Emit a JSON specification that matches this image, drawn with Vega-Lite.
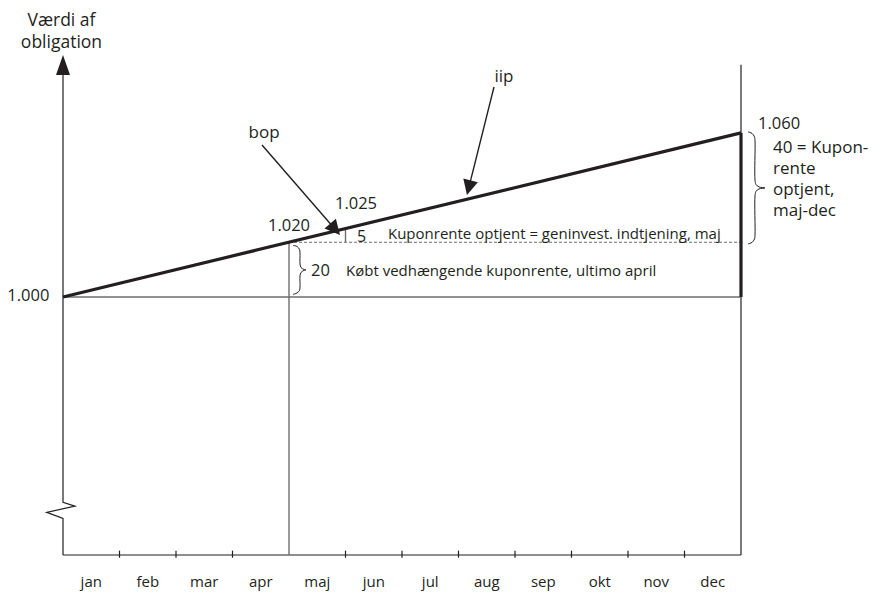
{
  "$schema": "https://vega.github.io/schema/vega-lite/v6.json",
  "width": 678,
  "height": 500,
  "autosize": {"type": "none"},
  "padding": {"left": 63, "top": 55, "right": 134, "bottom": 38},
  "config": {"view": {"stroke": null}, "font": "Open Sans"},
  "datasets": {
    "thinBlack": [
      {"x": 0, "v": 905.6, "x2": 12, "v2": 905.6},
      {"x": 12, "v": 905.6, "x2": 12, "v2": 1084.9},
      {"x": 1, "v": 904.6, "x2": 1, "v2": 907.2},
      {"x": 2, "v": 904.6, "x2": 2, "v2": 907.2},
      {"x": 3, "v": 904.6, "x2": 3, "v2": 907.2},
      {"x": 5, "v": 904.6, "x2": 5, "v2": 907.2},
      {"x": 6, "v": 904.6, "x2": 6, "v2": 907.2},
      {"x": 7, "v": 904.6, "x2": 7, "v2": 907.2},
      {"x": 8, "v": 904.6, "x2": 8, "v2": 907.2},
      {"x": 9, "v": 904.6, "x2": 9, "v2": 907.2},
      {"x": 10, "v": 904.6, "x2": 10, "v2": 907.2},
      {"x": 11, "v": 904.6, "x2": 11, "v2": 907.2}
    ],
    "grayRules": [
      {"x": 0, "v": 1000, "x2": 12, "v2": 1000},
      {"x": 4, "v": 905.6, "x2": 4, "v2": 1020},
      {"x": 5, "v": 1020, "x2": 5, "v2": 1025}
    ],
    "dashed": [
      {"x": 4, "v": 1020, "x2": 12, "v2": 1020}
    ],
    "thick": [
      {"x": 0, "v": 1000, "x2": 12, "v2": 1060},
      {"x": 12, "v": 1000, "x2": 12, "v2": 1060}
    ],
    "arrows": [
      {"x": 7.628, "v": 1076.8, "x2": 7.182, "v2": 1039.99},
      {"x": 3.522, "v": 1055.6, "x2": 4.816, "v2": 1024.77}
    ],
    "heads": [
      {"x": 7.182, "v": 1039.99, "ang": 194},
      {"x": 4.816, "v": 1024.77, "ang": 139}
    ],
    "yArrow": [
      {"x": 0, "v": 1084.88}
    ],
    "yAxisLine": [
      {"o": 1, "x": 0, "v": 1081.2},
      {"o": 2, "x": 0, "v": 924.9},
      {"o": 3, "x": 0.212, "v": 923.5},
      {"o": 4, "x": -0.288, "v": 921.2},
      {"o": 5, "x": 0, "v": 919.0},
      {"o": 6, "x": 0, "v": 905.6}
    ],
    "braces": [
      {"b": "r", "o": 1, "x": 12.124, "v": 1060.37},
      {"b": "r", "o": 2, "x": 12.195, "v": 1059.82},
      {"b": "r", "o": 3, "x": 12.239, "v": 1058.54},
      {"b": "r", "o": 4, "x": 12.248, "v": 1057.07},
      {"b": "r", "o": 5, "x": 12.248, "v": 1042.80},
      {"b": "r", "o": 6, "x": 12.265, "v": 1041.16},
      {"b": "r", "o": 7, "x": 12.319, "v": 1040.24},
      {"b": "r", "o": 8, "x": 12.425, "v": 1039.88},
      {"b": "r", "o": 9, "x": 12.319, "v": 1039.51},
      {"b": "r", "o": 10, "x": 12.265, "v": 1038.60},
      {"b": "r", "o": 11, "x": 12.248, "v": 1036.95},
      {"b": "r", "o": 12, "x": 12.248, "v": 1022.68},
      {"b": "r", "o": 13, "x": 12.239, "v": 1021.22},
      {"b": "r", "o": 14, "x": 12.195, "v": 1019.94},
      {"b": "r", "o": 15, "x": 12.124, "v": 1019.39},
      {"b": "l", "o": 1, "x": 4.071, "v": 1018.84},
      {"b": "l", "o": 2, "x": 4.142, "v": 1018.48},
      {"b": "l", "o": 3, "x": 4.186, "v": 1017.38},
      {"b": "l", "o": 4, "x": 4.195, "v": 1016.10},
      {"b": "l", "o": 5, "x": 4.195, "v": 1012.07},
      {"b": "l", "o": 6, "x": 4.212, "v": 1010.79},
      {"b": "l", "o": 7, "x": 4.265, "v": 1010.06},
      {"b": "l", "o": 8, "x": 4.301, "v": 1009.88},
      {"b": "l", "o": 9, "x": 4.265, "v": 1009.70},
      {"b": "l", "o": 10, "x": 4.212, "v": 1008.96},
      {"b": "l", "o": 11, "x": 4.195, "v": 1007.68},
      {"b": "l", "o": 12, "x": 4.195, "v": 1003.66},
      {"b": "l", "o": 13, "x": 4.186, "v": 1002.38},
      {"b": "l", "o": 14, "x": 4.142, "v": 1001.46},
      {"b": "l", "o": 15, "x": 4.071, "v": 1000.91}
    ],
    "months": [
      {"x": 0.5, "v": 895.73, "t": "jan"},
      {"x": 1.5, "v": 895.73, "t": "feb"},
      {"x": 2.5, "v": 895.73, "t": "mar"},
      {"x": 3.5, "v": 895.73, "t": "apr"},
      {"x": 4.5, "v": 895.73, "t": "maj"},
      {"x": 5.5, "v": 895.73, "t": "jun"},
      {"x": 6.5, "v": 895.73, "t": "jul"},
      {"x": 7.5, "v": 895.73, "t": "aug"},
      {"x": 8.5, "v": 895.73, "t": "sep"},
      {"x": 9.5, "v": 895.73, "t": "okt"},
      {"x": 10.5, "v": 895.73, "t": "nov"},
      {"x": 11.5, "v": 895.73, "t": "dec"}
    ],
    "textCenter": [
      {"x": -0.027, "v": 1100.8, "t": "Værdi af", "s": 17.5},
      {"x": -0.027, "v": 1092.9, "t": "obligation", "s": 17.5},
      {"x": 7.805, "v": 1080.5, "t": "iip", "s": 17},
      {"x": 3.558, "v": 1059.8, "t": "bop", "s": 17},
      {"x": 4.0, "v": 1025.8, "t": "1.020", "s": 16.5},
      {"x": 5.186, "v": 1034.0, "t": "1.025", "s": 16.5}
    ],
    "textLeft": [
      {"x": 12.301, "v": 1063.3, "t": "1.060", "s": 16.5},
      {"x": 12.566, "v": 1054.5, "t": "40 = Kupon-", "s": 17},
      {"x": 12.566, "v": 1046.8, "t": "rente", "s": 17},
      {"x": 12.566, "v": 1039.1, "t": "optjent,", "s": 17},
      {"x": 12.566, "v": 1031.5, "t": "maj-dec", "s": 17},
      {"x": 5.204, "v": 1021.95, "t": "5", "s": 16},
      {"x": 5.752, "v": 1022.87, "t": "Kuponrente optjent = geninvest. indtjening, maj", "s": 15},
      {"x": 4.389, "v": 1009.33, "t": "20", "s": 16.5},
      {"x": 5.009, "v": 1009.33, "t": "Købt vedhængende kuponrente, ultimo april", "s": 15}
    ],
    "textRight": [
      {"x": -0.242, "v": 1000.2, "t": "1.000", "s": 16.5}
    ]
  },
  "layer": [
    {
      "data": {"name": "thinBlack"},
      "mark": {"type": "rule", "color": "#231f20", "strokeWidth": 1.2},
      "encoding": {
        "x": {"field": "x", "type": "quantitative", "scale": {"domain": [0, 12], "nice": false, "zero": false}, "axis": null},
        "x2": {"field": "x2"},
        "y": {"field": "v", "type": "quantitative", "scale": {"domain": [905.6, 1088.5], "nice": false, "zero": false}, "axis": null},
        "y2": {"field": "v2"}
      }
    },
    {
      "data": {"name": "grayRules"},
      "mark": {"type": "rule", "color": "#6d6e71", "strokeWidth": 1.4},
      "encoding": {
        "x": {"field": "x", "type": "quantitative", "scale": {"domain": [0, 12], "nice": false, "zero": false}, "axis": null},
        "x2": {"field": "x2"},
        "y": {"field": "v", "type": "quantitative", "scale": {"domain": [905.6, 1088.5], "nice": false, "zero": false}, "axis": null},
        "y2": {"field": "v2"}
      }
    },
    {
      "data": {"name": "dashed"},
      "mark": {"type": "rule", "color": "#6d6e71", "strokeWidth": 1.1, "strokeDash": [3, 2]},
      "encoding": {
        "x": {"field": "x", "type": "quantitative", "scale": {"domain": [0, 12], "nice": false, "zero": false}, "axis": null},
        "x2": {"field": "x2"},
        "y": {"field": "v", "type": "quantitative", "scale": {"domain": [905.6, 1088.5], "nice": false, "zero": false}, "axis": null},
        "y2": {"field": "v2"}
      }
    },
    {
      "data": {"name": "yAxisLine"},
      "mark": {"type": "line", "color": "#231f20", "strokeWidth": 1.2},
      "encoding": {
        "x": {"field": "x", "type": "quantitative", "scale": {"domain": [0, 12], "nice": false, "zero": false}, "axis": null},
        "y": {"field": "v", "type": "quantitative", "scale": {"domain": [905.6, 1088.5], "nice": false, "zero": false}, "axis": null},
        "order": {"field": "o", "type": "quantitative"}
      }
    },
    {
      "data": {"name": "braces"},
      "mark": {"type": "line", "color": "#231f20", "strokeWidth": 1, "interpolate": "catmull-rom"},
      "encoding": {
        "x": {"field": "x", "type": "quantitative", "scale": {"domain": [0, 12], "nice": false, "zero": false}, "axis": null},
        "y": {"field": "v", "type": "quantitative", "scale": {"domain": [905.6, 1088.5], "nice": false, "zero": false}, "axis": null},
        "detail": {"field": "b"},
        "order": {"field": "o", "type": "quantitative"}
      }
    },
    {
      "data": {"name": "arrows"},
      "mark": {"type": "rule", "color": "#231f20", "strokeWidth": 1.4},
      "encoding": {
        "x": {"field": "x", "type": "quantitative", "scale": {"domain": [0, 12], "nice": false, "zero": false}, "axis": null},
        "x2": {"field": "x2"},
        "y": {"field": "v", "type": "quantitative", "scale": {"domain": [905.6, 1088.5], "nice": false, "zero": false}, "axis": null},
        "y2": {"field": "v2"}
      }
    },
    {
      "data": {"name": "thick"},
      "mark": {"type": "rule", "color": "#231f20", "strokeWidth": 3.2},
      "encoding": {
        "x": {"field": "x", "type": "quantitative", "scale": {"domain": [0, 12], "nice": false, "zero": false}, "axis": null},
        "x2": {"field": "x2"},
        "y": {"field": "v", "type": "quantitative", "scale": {"domain": [905.6, 1088.5], "nice": false, "zero": false}, "axis": null},
        "y2": {"field": "v2"}
      }
    },
    {
      "data": {"name": "heads"},
      "mark": {"type": "point", "filled": true, "color": "#231f20", "opacity": 1, "strokeWidth": 0, "shape": "M0,-1L1,1L-1,1Z", "size": 225},
      "encoding": {
        "x": {"field": "x", "type": "quantitative", "scale": {"domain": [0, 12], "nice": false, "zero": false}, "axis": null},
        "y": {"field": "v", "type": "quantitative", "scale": {"domain": [905.6, 1088.5], "nice": false, "zero": false}, "axis": null},
        "angle": {"field": "ang", "type": "quantitative", "scale": null}
      }
    },
    {
      "data": {"name": "yArrow"},
      "mark": {"type": "point", "filled": true, "color": "#231f20", "opacity": 1, "strokeWidth": 0, "shape": "M0,-1L0.7,1L-0.7,1Z", "size": 400},
      "encoding": {
        "x": {"field": "x", "type": "quantitative", "scale": {"domain": [0, 12], "nice": false, "zero": false}, "axis": null},
        "y": {"field": "v", "type": "quantitative", "scale": {"domain": [905.6, 1088.5], "nice": false, "zero": false}, "axis": null}
      }
    },
    {
      "data": {"name": "months"},
      "mark": {"type": "text", "align": "center", "baseline": "middle", "color": "#231f20", "font": "Open Sans", "fontSize": 15},
      "encoding": {
        "x": {"field": "x", "type": "quantitative", "scale": {"domain": [0, 12], "nice": false, "zero": false}, "axis": null},
        "y": {"field": "v", "type": "quantitative", "scale": {"domain": [905.6, 1088.5], "nice": false, "zero": false}, "axis": null},
        "text": {"field": "t"}
      }
    },
    {
      "data": {"name": "textCenter"},
      "mark": {"type": "text", "align": "center", "baseline": "middle", "color": "#231f20", "font": "Open Sans"},
      "encoding": {
        "x": {"field": "x", "type": "quantitative", "scale": {"domain": [0, 12], "nice": false, "zero": false}, "axis": null},
        "y": {"field": "v", "type": "quantitative", "scale": {"domain": [905.6, 1088.5], "nice": false, "zero": false}, "axis": null},
        "text": {"field": "t"},
        "size": {"field": "s", "type": "quantitative", "scale": null}
      }
    },
    {
      "data": {"name": "textLeft"},
      "mark": {"type": "text", "align": "left", "baseline": "middle", "color": "#231f20", "font": "Open Sans"},
      "encoding": {
        "x": {"field": "x", "type": "quantitative", "scale": {"domain": [0, 12], "nice": false, "zero": false}, "axis": null},
        "y": {"field": "v", "type": "quantitative", "scale": {"domain": [905.6, 1088.5], "nice": false, "zero": false}, "axis": null},
        "text": {"field": "t"},
        "size": {"field": "s", "type": "quantitative", "scale": null}
      }
    },
    {
      "data": {"name": "textRight"},
      "mark": {"type": "text", "align": "right", "baseline": "middle", "color": "#231f20", "font": "Open Sans"},
      "encoding": {
        "x": {"field": "x", "type": "quantitative", "scale": {"domain": [0, 12], "nice": false, "zero": false}, "axis": null},
        "y": {"field": "v", "type": "quantitative", "scale": {"domain": [905.6, 1088.5], "nice": false, "zero": false}, "axis": null},
        "text": {"field": "t"},
        "size": {"field": "s", "type": "quantitative", "scale": null}
      }
    }
  ]
}
